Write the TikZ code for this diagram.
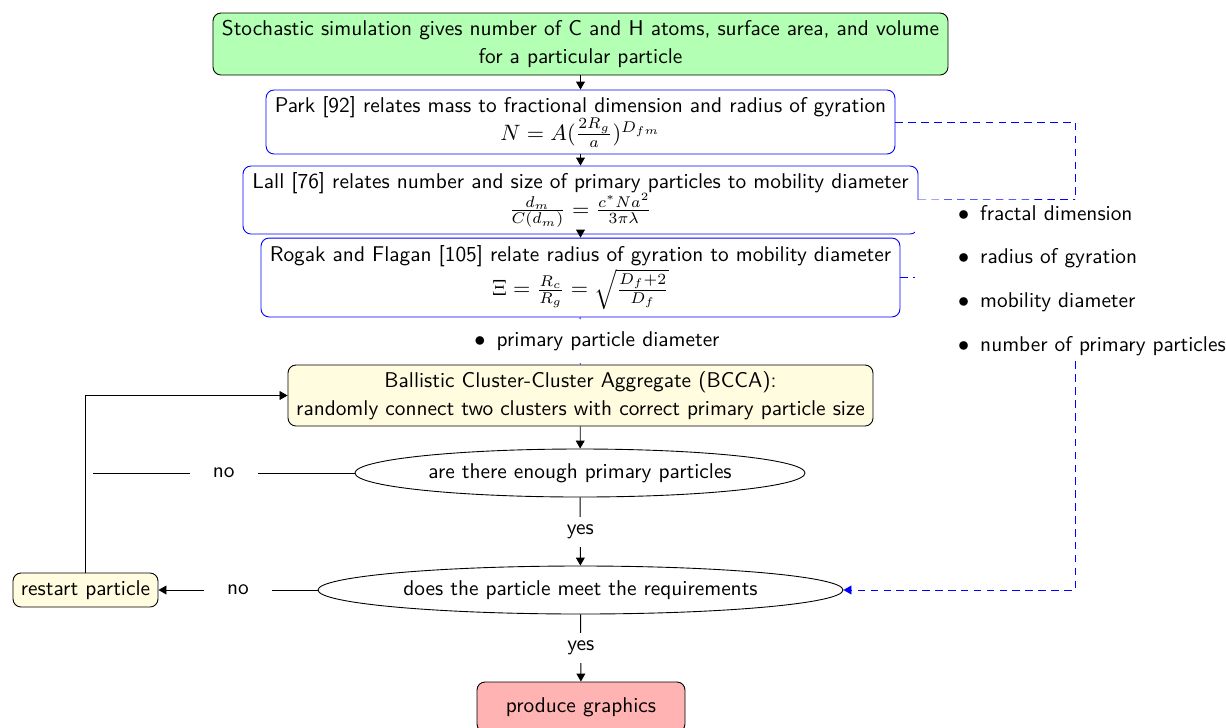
\documentclass[tikz,border=0pt]{standalone}
\usetikzlibrary{shapes.geometric,arrows.meta,backgrounds}
\definecolor{boxgreen}{RGB}{179,255,179}
\definecolor{boxyellow}{RGB}{255,252,224}
\definecolor{boxred}{RGB}{255,179,179}
\newcommand\propitem[1]{\mbox{\hspace*{19.35pt}$\bullet$\hspace{5pt}#1}}
\begin{document}
\begin{tikzpicture}[x=0.45pt,y=-0.45pt,font=\sffamily\fontsize{9.6}{12.6}\selectfont,
  pbox/.style={draw, rounded corners=3.6pt, align=center, inner sep=2pt},
  greenbox/.style={pbox, fill=boxgreen},
  bluebox/.style={pbox, draw=blue, fill=white},
  yellowbox/.style={pbox, fill=boxyellow},
  redbox/.style={pbox, fill=boxred},
  decision/.style={ellipse, draw, inner sep=0pt},
  lbl/.style={fill=white, inner sep=0pt, minimum width=30.6pt, minimum height=13.5pt},
  flow/.style={-{Triangle[length=3.6pt,width=4pt]}},
  link/.style={blue, dash pattern=on 3.4pt off 2.4pt},
]
\useasboundingbox (0,0) rectangle (1226,727);

\node[greenbox, minimum width=330.75pt, minimum height=27.9pt] (sim) at (580.5,44)
  {Stochastic simulation gives number of C and H atoms, surface area, and volume\\for a particular particle};
\node[bluebox, minimum width=283pt, minimum height=28.8pt] (park) at (580.5,122)
  {Park [92] relates mass to fractional dimension and radius of gyration\\$N = A(\frac{2R_g}{a})^{D_{fm}}$};
\node[bluebox, minimum width=303.75pt, minimum height=30.6pt] (lall) at (580.5,200)
  {Lall [76] relates number and size of primary particles to mobility diameter\\$\frac{d_m}{C(d_m)} = \frac{c^* N a^2}{3\pi\lambda}$};
\node[bluebox, minimum width=287.5pt, minimum height=35.5pt] (rogak) at (580.5,277.5)
  {Rogak and Flagan [105] relate radius of gyration to mobility diameter\\$\Xi = \frac{R_c}{R_g} = \sqrt{\frac{D_f+2}{D_f}}$};
\node[fill=white, inner sep=0pt, minimum height=19.4pt] (ppd) at (580,341)
  {\hspace*{15.3pt}$\bullet$\hspace{5pt}primary particle diameter};
\node[yellowbox, minimum width=263.25pt, minimum height=27.45pt] (bcca) at (580.5,395.5)
  {Ballistic Cluster-Cluster Aggregate (BCCA):\\randomly connect two clusters with correct primary particle size};
\node[decision, minimum width=202.5pt, minimum height=21.6pt] (enough) at (580,473)
  {are there enough primary particles};
\node[decision, minimum width=236.25pt, minimum height=21.6pt] (meet) at (580.5,590)
  {does the particle meet the requirements};
\node[yellowbox, minimum width=65.25pt, minimum height=15.3pt, inner sep=1pt] (restart) at (85.5,590)
  {restart particle};
\node[redbox, minimum width=93.6pt, minimum height=22.5pt] (graphics) at (581,707)
  {produce graphics};
\node[fill=white, inner sep=0pt, text width=144pt, minimum height=72.45pt, align=left] (props) at (1075,280.5)
  {\propitem{fractal dimension}\\[7.1pt]\propitem{radius of gyration}\\[7.1pt]\propitem{mobility diameter}\\[7.1pt]\propitem{number of primary particles}};
\coordinate (noend) at (93,473);

\draw[flow] (sim) -- (park);
\draw[flow] (park) -- (lall);
\draw[flow] (lall) -- (rogak);
\draw[blue] (rogak) -- (ppd);
\draw[blue] (ppd) -- (bcca);
\draw[flow] (bcca) -- (enough);
\draw (enough) -- node[lbl] {no} (noend);
\draw[flow] (enough) -- node[lbl] {yes} (meet);
\draw[flow] (meet) -- node[lbl] {no} (restart);
\draw[flow] (restart) |- (bcca);
\draw[flow] (meet) -- node[lbl] {yes} (graphics);

\begin{pgfonlayer}{background}
\draw[link] (park) -| (props);
\draw[link] (lall.east) -- (props.north);
\draw[link] (rogak.east) -- (rogak.east -| props.west);
\end{pgfonlayer}
\draw[link, -{Triangle[length=3.6pt,width=4pt]}] (props.south) |- (meet.east);
\end{tikzpicture}
\end{document}
